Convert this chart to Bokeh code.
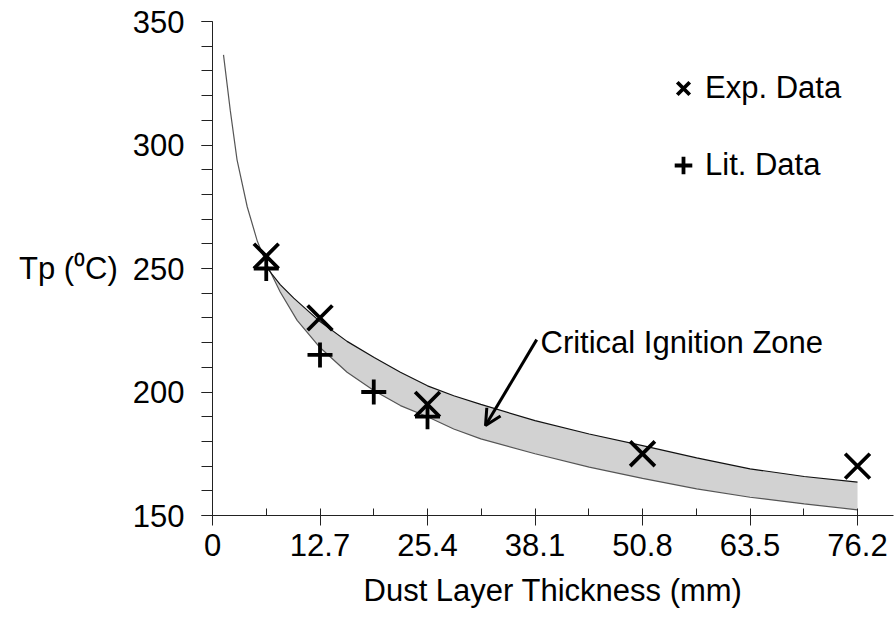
from bokeh.plotting import figure
from bokeh.models import (Range1d, FixedTicker, SingleIntervalTicker, NumeralTickFormatter,
                          Label, Arrow, OpenHead, Legend, LegendItem)
from bokeh.embed import file_html
from bokeh.resources import INLINE

# ---- data ----
x_ticks = [0, 12.7, 25.4, 38.1, 50.8, 63.5, 76.2]

lower_x = [1.3, 2.1, 2.9, 4.1, 5.3, 6.5, 8.0, 10.0, 12.7, 15.9, 19.1, 22.2, 25.4,
           28.5, 31.7, 38.1, 44.5, 50.8, 57.2, 63.5, 69.9, 76.2]
lower_T = [336.5, 314, 294, 275, 261, 251, 240.5, 229, 218, 208, 200.5, 194.5, 190,
           185, 181, 175, 169.6, 165, 160.8, 157.4, 154.7, 152.3]

upper_x = [6.5, 8.0, 9.6, 12.7, 15.9, 19.1, 22.2, 25.4, 28.5, 31.7, 38.1, 44.5,
           50.8, 57.2, 63.5, 69.9, 76.2]
upper_T = [250, 243.5, 238, 228.5, 220.5, 214, 208, 202.5, 198.5, 195, 188.4, 183,
           178.3, 173.3, 168.9, 165.8, 163.5]

exp_x = [6.35, 12.7, 25.4, 50.8, 76.2]
exp_T = [255, 230, 195, 175, 170]

lit_x = [6.35, 12.7, 19.05, 25.4]
lit_T = [250, 215, 200, 190]

FONT = "Liberation Sans"
FS = "31px"

p = figure(width=894, height=620, output_backend="svg", toolbar_location=None,
           x_range=Range1d(0, 80.45), y_range=Range1d(150, 350),
           min_border_left=212, min_border_right=1, min_border_top=21, min_border_bottom=105)
p.outline_line_color = None
p.xgrid.visible = False
p.ygrid.visible = False
p.background_fill_color = "white"
p.border_fill_color = "white"

# critical ignition zone (band between the curves)
start = lower_x.index(upper_x[0])
band_x = upper_x + lower_x[start:][::-1]
band_y = upper_T + lower_T[start:][::-1]
p.patch(band_x, band_y, fill_color="#d2d2d2", line_color=None)
p.line(lower_x, lower_T, line_color="#555555", line_width=1.2)
p.line(upper_x, upper_T, line_color="#111111", line_width=1.2)

r_exp = p.scatter(exp_x, exp_T, marker="x", size=35, line_color="black", line_width=3.8)
r_lit = p.scatter(lit_x, lit_T, marker="cross", size=25, line_color="black", line_width=3.8)

# axes
minor_x = [(a + b) / 2 for a, b in zip(x_ticks[:-1], x_ticks[1:])]
xa = p.xaxis[0]
xa.ticker = FixedTicker(ticks=x_ticks, minor_ticks=minor_x)
xa.formatter = NumeralTickFormatter(format="0.[0]")
xa.major_tick_in = 7
xa.major_tick_out = 10
xa.minor_tick_in = 7
xa.minor_tick_out = 0
xa.axis_label = "Dust Layer Thickness (mm)"
xa.axis_label_text_font = FONT
xa.axis_label_text_font_size = FS
xa.axis_label_text_font_style = "normal"
xa.axis_label_standoff = 14
xa.major_label_text_font = FONT
xa.major_label_text_font_size = FS
xa.major_label_standoff = 8

ya = p.yaxis[0]
ya.ticker = SingleIntervalTicker(interval=50, num_minor_ticks=5)
ya.major_tick_in = 0
ya.major_tick_out = 11
ya.minor_tick_in = 0
ya.minor_tick_out = 11
ya.major_label_text_font = FONT
ya.major_label_text_font_size = FS
ya.major_label_standoff = 17

for ax in (xa, ya):
    ax.axis_line_color = "#222222"
    ax.major_tick_line_color = "#222222"
    ax.minor_tick_line_color = "#222222"
    ax.major_label_text_color = "black"
    ax.axis_label_text_color = "black"

# y axis title (horizontal, left of the tick labels)
try:
    ya.axis_label_orientation = "horizontal"
    ya.axis_label = "Tp (\u2070C)"
    ya.axis_label_text_font = FONT
    ya.axis_label_text_font_size = FS
    ya.axis_label_text_font_style = "normal"
    ya.axis_label_standoff = 12
except Exception:
    p.add_layout(Label(x=-199, y=250, x_units="screen", text="Tp (\u2070C)", text_font=FONT,
                       text_font_size=FS, text_baseline="middle", text_align="left",
                       text_color="black"))

# annotation
p.add_layout(Label(x=38.75, y=220, text="Critical Ignition Zone", text_font=FONT,
                   text_font_size=FS, text_baseline="alphabetic", text_color="black"))
p.add_layout(Arrow(end=OpenHead(size=16, line_width=3, line_color="black"),
                   x_start=38.3, y_start=221.2, x_end=32.25, y_end=186.4,
                   line_width=3, line_color="black"))

legend = Legend(items=[LegendItem(label="Exp. Data", renderers=[r_exp]),
                       LegendItem(label="Lit. Data", renderers=[r_lit])],
                location=(449, 326), padding=0, spacing=29,
                glyph_width=44, glyph_height=48, label_height=48, label_standoff=0,
                label_text_font=FONT, label_text_font_size=FS, label_text_color="black",
                border_line_color=None, background_fill_alpha=0)
p.add_layout(legend)

open("out.html", "w").write(file_html(p, INLINE))
